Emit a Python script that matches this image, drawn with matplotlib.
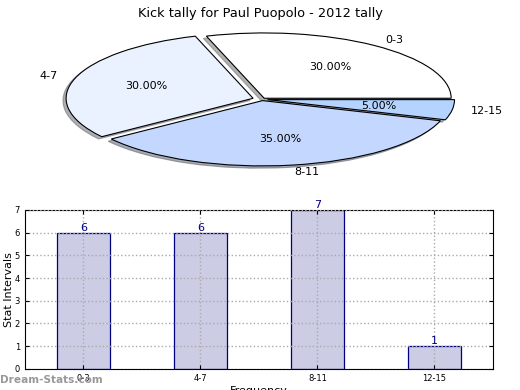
import matplotlib
matplotlib.use('Agg')
import matplotlib.pyplot as plt

categorias = ['0-3', '4-7', '8-11', '12-15']
valores = [6, 6, 7, 1]
colores_pie = ['#ffffff', '#ebf2ff', '#c4d8ff', '#b4d4ff']
explode = [0.02, 0.05, 0.02, 0.03]

fig = plt.figure(figsize=(5.2, 3.9), dpi=100)

# pastel
ax1 = fig.add_axes([0.0543, 0.536, 0.899, 0.4187])
ax1.pie(valores, labels=categorias, colors=colores_pie, explode=explode,
        autopct='%1.2f%%', shadow={'ox': -0.012, 'oy': -0.025, 'shade': 0.6},
        startangle=0,
        wedgeprops={'edgecolor': 'black', 'linewidth': 0.8},
        textprops={'fontsize': 8})
ax1.set_aspect('auto')
ax1.set_xlim(-1.25, 1.25)
ax1.set_ylim(-1.25, 1.25)
fig.text(0.5, 0.965, 'Kick tally for Paul Puopolo - 2012 tally', ha='center', va='center', fontsize=9.3)

# barras
ax2 = fig.add_axes([0.048, 0.054, 0.9, 0.408])
x = range(len(categorias))
barras = ax2.bar(x, valores, width=0.45, color='#cccce5', edgecolor='#000080', linewidth=0.9)
for b, v in zip(barras, valores):
    ax2.text(b.get_x() + b.get_width() / 2, v, str(v), ha='center', va='bottom',
             color='#000080', fontsize=8)
ax2.set_xlim(-0.5, 3.5)
ax2.set_ylim(0, 7)
ax2.set_xticks(list(x))
ax2.set_xticklabels(categorias)
ax2.tick_params(labelsize=6, direction='in', top=True, right=True, length=3)
ax2.grid(True, linestyle=':', color='#aaaaaa', linewidth=1)
ax2.set_axisbelow(False)
ax2.set_ylabel('Stat Intervals', fontsize=8, labelpad=0.5)
ax2.set_xlabel('Frequency', fontsize=8, labelpad=2)

fig.text(0.0, 0.025, 'Dream-Stats.com', fontsize=7.6, color='#999999', fontweight='bold', va='center')

plt.savefig('out.png', dpi=100)
